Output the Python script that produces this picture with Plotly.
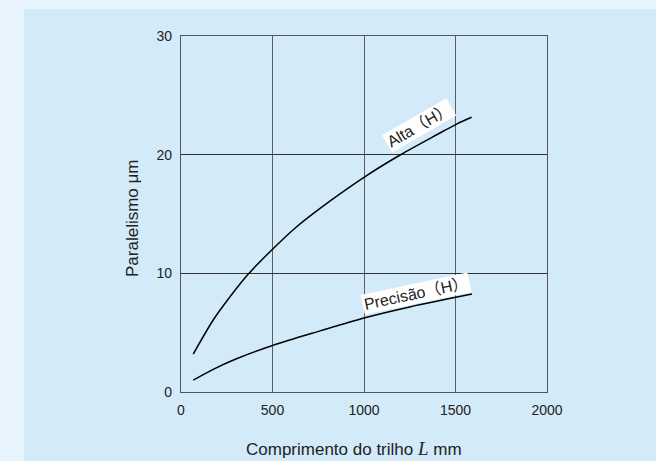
import plotly.graph_objects as go

# Data
alta_len = [67, 176, 268, 368, 496, 632, 760, 1000, 1197, 1400, 1506, 1588]
alta_um = [3.2, 6.07, 8.03, 9.94, 11.97, 13.93, 15.48, 18.09, 19.97, 21.7, 22.58, 23.15]
precisao_len = [67, 176, 300, 500, 760, 1000, 1250, 1590]
precisao_um = [1.0, 1.91, 2.78, 3.92, 5.15, 6.24, 7.17, 8.25]

x_ticks = [0, 500, 1000, 1500, 2000]
y_ticks = [0, 10, 20, 30]

W, H = 656, 461
L, R, T, B = 181, 547, 36, 392

FONT = "Liberation Sans, Arial, Noto Sans CJK JP, sans-serif"
TXT = "#222222"

fig = go.Figure()
fig.add_trace(go.Scatter(x=alta_len, y=alta_um, mode="lines",
                         line=dict(color="black", width=1.5, shape="spline", smoothing=0.8),
                         showlegend=False, hoverinfo="skip"))
fig.add_trace(go.Scatter(x=precisao_len, y=precisao_um, mode="lines",
                         line=dict(color="black", width=1.5, shape="spline", smoothing=0.8),
                         showlegend=False, hoverinfo="skip"))

def px_to_paper_x(px):
    return (px - L) / (R - L)

def px_to_paper_y(py):
    return (B - py) / (B - T)

# light-blue panel
fig.add_shape(type="rect", xref="paper", yref="paper",
              x0=px_to_paper_x(24), x1=px_to_paper_x(W + 5),
              y0=px_to_paper_y(H + 5), y1=px_to_paper_y(9),
              fillcolor="#d3eaf9", line=dict(width=0), layer="below")

fig.add_annotation(x=px_to_paper_x(419), y=px_to_paper_y(126), xref="paper", yref="paper",
                   text="Alta（H）", showarrow=False, textangle=-30,
                   xanchor="center", yanchor="middle",
                   font=dict(family=FONT, size=16, color=TXT),
                   bgcolor="white", borderpad=1)
fig.add_annotation(x=px_to_paper_x(416), y=px_to_paper_y(293), xref="paper", yref="paper",
                   text="Precisão（H）", showarrow=False, textangle=-12,
                   xanchor="center", yanchor="middle",
                   font=dict(family=FONT, size=16, color=TXT),
                   bgcolor="white", borderpad=1)

fig.add_annotation(x=px_to_paper_x(354), y=px_to_paper_y(448), xref="paper", yref="paper",
                   text="Comprimento do trilho <i><span style='font-family:Liberation Serif, Times New Roman, serif;font-size:19px'>L</span></i> mm",
                   showarrow=False, xanchor="center", yanchor="middle",
                   font=dict(family=FONT, size=17, color=TXT))
fig.add_annotation(x=px_to_paper_x(132), y=px_to_paper_y(218), xref="paper", yref="paper",
                   text="Paralelismo μm", showarrow=False, textangle=-90,
                   xanchor="center", yanchor="middle",
                   font=dict(family=FONT, size=17, color=TXT))

axis_common = dict(showline=True, mirror=True, linecolor="#555555", linewidth=1.2,
                   showgrid=True, gridwidth=1, zeroline=False,
                   ticks="", tickfont=dict(family=FONT, size=14, color=TXT), fixedrange=True)

fig.update_xaxes(range=[0, 2000], tickvals=x_ticks, ticktext=[str(v) for v in x_ticks],
                 ticklabelstandoff=5, gridcolor="#5e5e5e", **axis_common)
fig.update_yaxes(range=[0, 30], tickvals=y_ticks, ticktext=[str(v) for v in y_ticks],
                 ticklabelstandoff=5, gridcolor="#333333", **axis_common)

fig.update_layout(width=W, height=H, autosize=False,
                  margin=dict(l=L, r=W - R, t=T, b=H - B, pad=0),
                  paper_bgcolor="#e8f5fe", plot_bgcolor="white",
                  font=dict(family=FONT, color=TXT))

fig.write_html("out.html", config={"displayModeBar": False},
               post_script="document.body.style.margin='0';document.body.style.overflow='hidden';document.body.style.background='#e8f5fe';")
